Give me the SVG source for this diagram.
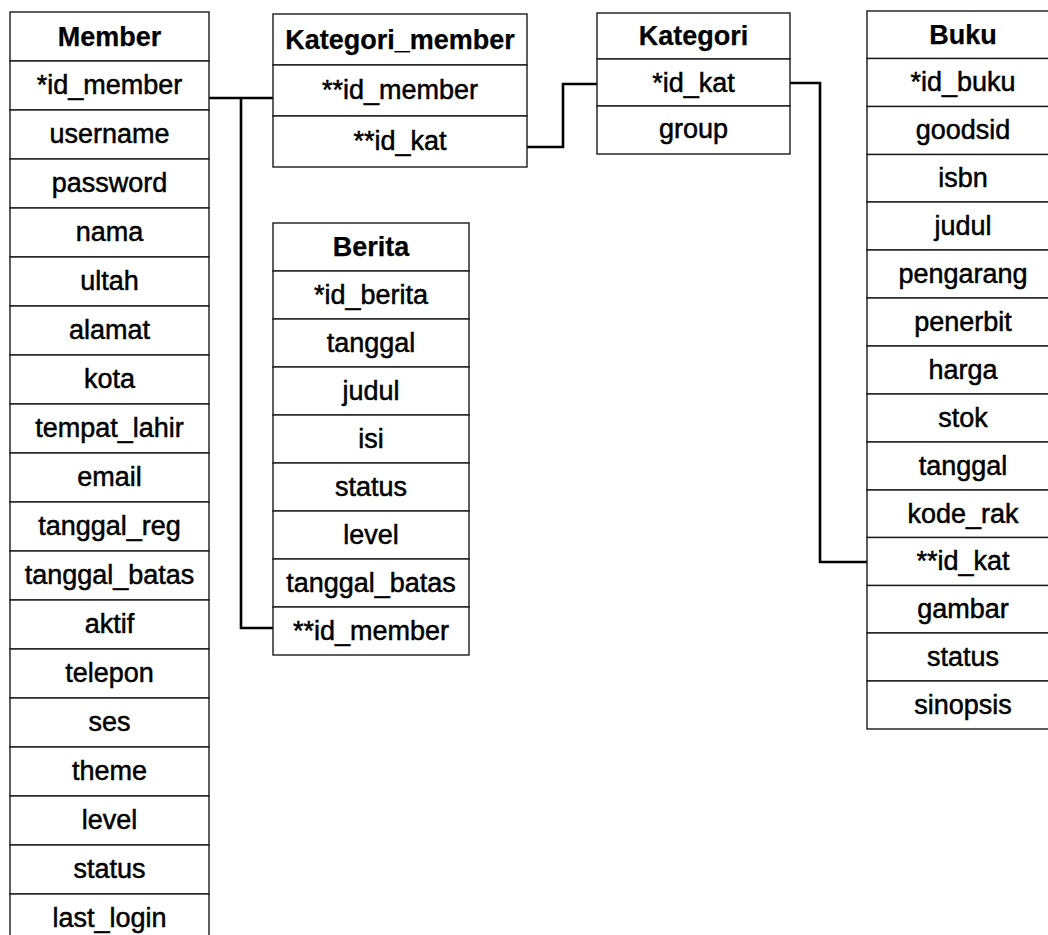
<svg xmlns="http://www.w3.org/2000/svg" width="1048" height="935" viewBox="0 0 1048 935">
<style>
.c{fill:#fff;stroke:#1a1a1a;stroke-width:1.4}
.t{font-family:"Liberation Sans",Arial,sans-serif;font-size:27px;fill:#000;text-anchor:middle;stroke:#000;stroke-width:0.5}
.h{font-weight:bold;stroke-width:0.25}
.l{fill:none;stroke:#000;stroke-width:2.6;stroke-linejoin:miter}
</style>
<rect width="1048" height="935" fill="#fff"/>
<g id="connectors">
<polyline class="l" points="209,98 274,98"/>
<polyline class="l" points="241,98 241,628 273,628"/>
<polyline class="l" points="527,147 563,147 563,84 597,84"/>
<polyline class="l" points="790,83 820,83 820,562 867,562"/>
</g>
<g id="member">
<rect class="c" x="10" y="12" width="199" height="49"/>
<text class="t h" x="109.5" y="45.5">Member</text>
<rect class="c" x="10" y="61" width="199" height="49"/><text class="t" x="109.5" y="94">*id_member</text>
<rect class="c" x="10" y="110" width="199" height="49"/><text class="t" x="109.5" y="143">username</text>
<rect class="c" x="10" y="159" width="199" height="49"/><text class="t" x="109.5" y="192">password</text>
<rect class="c" x="10" y="208" width="199" height="49"/><text class="t" x="109.5" y="241">nama</text>
<rect class="c" x="10" y="257" width="199" height="49"/><text class="t" x="109.5" y="290">ultah</text>
<rect class="c" x="10" y="306" width="199" height="49"/><text class="t" x="109.5" y="339">alamat</text>
<rect class="c" x="10" y="355" width="199" height="49"/><text class="t" x="109.5" y="388">kota</text>
<rect class="c" x="10" y="404" width="199" height="49"/><text class="t" x="109.5" y="437">tempat_lahir</text>
<rect class="c" x="10" y="453" width="199" height="49"/><text class="t" x="109.5" y="486">email</text>
<rect class="c" x="10" y="502" width="199" height="49"/><text class="t" x="109.5" y="535">tanggal_reg</text>
<rect class="c" x="10" y="551" width="199" height="49"/><text class="t" x="109.5" y="584">tanggal_batas</text>
<rect class="c" x="10" y="600" width="199" height="49"/><text class="t" x="109.5" y="633">aktif</text>
<rect class="c" x="10" y="649" width="199" height="49"/><text class="t" x="109.5" y="682">telepon</text>
<rect class="c" x="10" y="698" width="199" height="49"/><text class="t" x="109.5" y="731">ses</text>
<rect class="c" x="10" y="747" width="199" height="49"/><text class="t" x="109.5" y="780">theme</text>
<rect class="c" x="10" y="796" width="199" height="49"/><text class="t" x="109.5" y="829">level</text>
<rect class="c" x="10" y="845" width="199" height="49"/><text class="t" x="109.5" y="878">status</text>
<rect class="c" x="10" y="894" width="199" height="49"/><text class="t" x="109.5" y="927">last_login</text>
</g>
<g id="kategori_member">
<rect class="c" x="273" y="14" width="254" height="51"/>
<text class="t h" x="400" y="48.5">Kategori_member</text>
<rect class="c" x="273" y="65" width="254" height="51"/><text class="t" x="400" y="98.5">**id_member</text>
<rect class="c" x="273" y="116" width="254" height="51"/><text class="t" x="400" y="150">**id_kat</text>
</g>
<g id="kategori">
<rect class="c" x="597" y="13" width="193" height="46"/>
<text class="t h" x="693.5" y="45">Kategori</text>
<rect class="c" x="597" y="59" width="193" height="47"/><text class="t" x="693.5" y="91.5">*id_kat</text>
<rect class="c" x="597" y="106" width="193" height="48"/><text class="t" x="693.5" y="138">group</text>
</g>
<g id="berita">
<rect class="c" x="273" y="223" width="196" height="48"/>
<text class="t h" x="371" y="256">Berita</text>
<rect class="c" x="273" y="271" width="196" height="48"/><text class="t" x="371" y="303.5">*id_berita</text>
<rect class="c" x="273" y="319" width="196" height="48"/><text class="t" x="371" y="351.5">tanggal</text>
<rect class="c" x="273" y="367" width="196" height="48"/><text class="t" x="371" y="399.5">judul</text>
<rect class="c" x="273" y="415" width="196" height="48"/><text class="t" x="371" y="447.5">isi</text>
<rect class="c" x="273" y="463" width="196" height="48"/><text class="t" x="371" y="495.5">status</text>
<rect class="c" x="273" y="511" width="196" height="48"/><text class="t" x="371" y="543.5">level</text>
<rect class="c" x="273" y="559" width="196" height="48"/><text class="t" x="371" y="591.5">tanggal_batas</text>
<rect class="c" x="273" y="607" width="196" height="48"/><text class="t" x="371" y="639.5">**id_member</text>
</g>
<g id="buku">
<rect class="c" x="867" y="11" width="192" height="47.5"/>
<text class="t h" x="963" y="43.5">Buku</text>
<rect class="c" x="867" y="58.5" width="192" height="48"/><text class="t" x="963" y="91">*id_buku</text>
<rect class="c" x="867" y="106.5" width="192" height="48"/><text class="t" x="963" y="139">goodsid</text>
<rect class="c" x="867" y="154.5" width="192" height="47.5"/><text class="t" x="963" y="187">isbn</text>
<rect class="c" x="867" y="202" width="192" height="48"/><text class="t" x="963" y="234.5">judul</text>
<rect class="c" x="867" y="250" width="192" height="48"/><text class="t" x="963" y="282.5">pengarang</text>
<rect class="c" x="867" y="298" width="192" height="48"/><text class="t" x="963" y="330.5">penerbit</text>
<rect class="c" x="867" y="346" width="192" height="48"/><text class="t" x="963" y="378.5">harga</text>
<rect class="c" x="867" y="394" width="192" height="48"/><text class="t" x="963" y="426.5">stok</text>
<rect class="c" x="867" y="442" width="192" height="48"/><text class="t" x="963" y="474.5">tanggal</text>
<rect class="c" x="867" y="490" width="192" height="47.5"/><text class="t" x="963" y="522.5">kode_rak</text>
<rect class="c" x="867" y="537.5" width="192" height="48"/><text class="t" x="963" y="570">**id_kat</text>
<rect class="c" x="867" y="585.5" width="192" height="47.5"/><text class="t" x="963" y="618">gambar</text>
<rect class="c" x="867" y="633" width="192" height="48"/><text class="t" x="963" y="665.5">status</text>
<rect class="c" x="867" y="681" width="192" height="48"/><text class="t" x="963" y="713.5">sinopsis</text>
</g>
</svg>
